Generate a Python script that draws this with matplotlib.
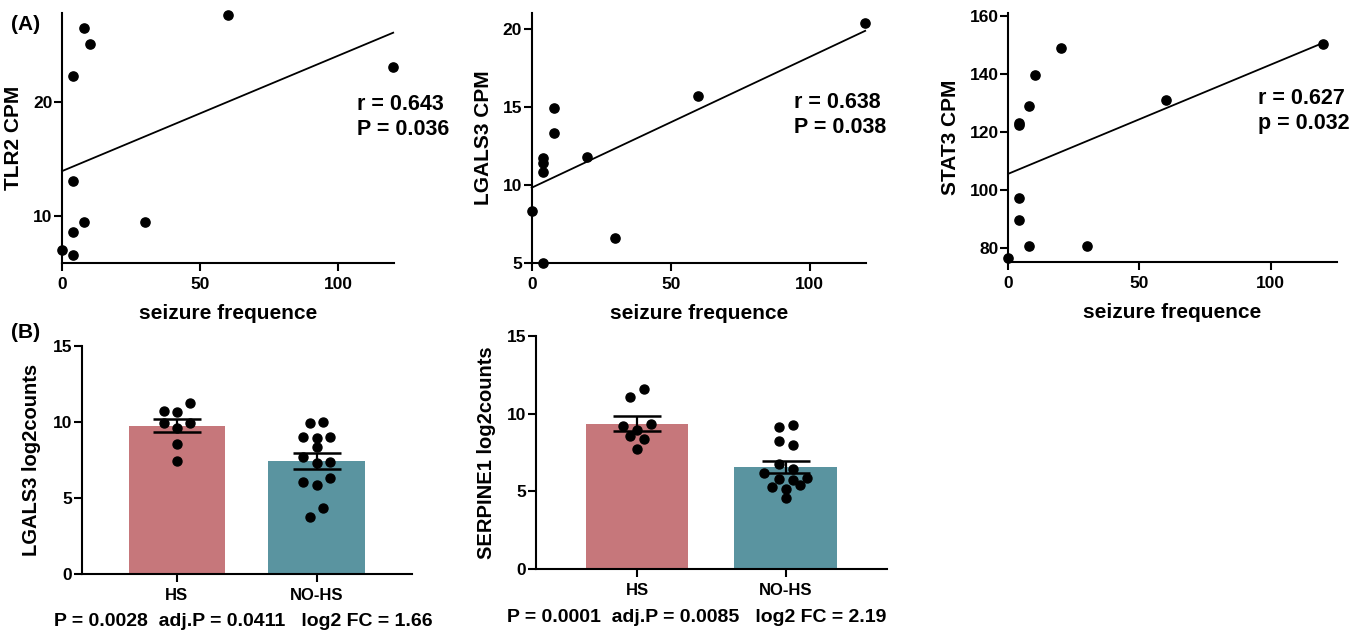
import numpy as np
import matplotlib
matplotlib.use('Agg')
import matplotlib.pyplot as plt

# ---- data ----
# (A) seizure frequence vs CPM
tlr2_x = [0, 4, 4, 4, 4, 8, 8, 10, 30, 60, 120]
tlr2_y = [7.0, 6.6, 8.6, 13.1, 22.3, 9.5, 26.5, 25.1, 9.5, 27.6, 23.1]

lgals3_x = [0, 4, 4, 4, 4, 8, 8, 20, 30, 60, 120]
lgals3_y = [8.3, 5.0, 10.8, 11.4, 11.7, 13.3, 14.9, 11.8, 6.6, 15.7, 20.4]

stat3_x = [0, 4, 4, 4, 4, 8, 8, 10, 20, 30, 60, 120]
stat3_y = [76.8, 89.7, 97.5, 122.3, 123.2, 80.7, 129.1, 139.8, 148.9, 80.9, 131.0, 150.2]

stats_a = ['r = 0.643\nP = 0.036', 'r = 0.638\nP = 0.038', 'r = 0.627\np = 0.032']

# (B) log2counts per group
groups = ['HS', 'NO-HS']
lgals3_hs = [10.72, 10.62, 11.21, 9.89, 9.61, 9.89, 8.51, 7.41]
lgals3_nohs = [9.93, 10.0, 8.97, 8.91, 8.32, 8.97, 7.70, 7.30, 7.33,
               6.01, 5.84, 6.28, 3.73, 4.32]
serpine1_hs = [11.09, 11.59, 9.23, 8.95, 9.34, 8.56, 8.37, 7.73]
serpine1_nohs = [9.12, 9.27, 8.26, 7.98, 6.76, 6.44, 6.16, 5.80, 5.73, 5.88,
                 5.26, 5.15, 5.41, 4.55]

stats_b = ['P = 0.0028  adj.P = 0.0411   log2 FC = 1.66',
           'P = 0.0001  adj.P = 0.0085   log2 FC = 2.19']

bar_colors = ['#C6777B', '#5A94A0']

plt.rcParams['font.family'] = ['Liberation Sans', 'DejaVu Sans']
plt.rcParams['font.weight'] = 'bold'
plt.rcParams['axes.labelweight'] = 'bold'
plt.rcParams['axes.linewidth'] = 1.5

W, H = 1353, 631
fig = plt.figure(figsize=(W / 100, H / 100), dpi=100)


def px_axes(left, top, right, bottom):
    # axes rectangle given in pixel coords of the reference
    return fig.add_axes([left / W, 1 - bottom / H, (right - left) / W, (bottom - top) / H])


def style(ax):
    for s in ['top', 'right']:
        ax.spines[s].set_visible(False)
    ax.tick_params(direction='out', length=6, width=1.5, labelsize=12.5)
    ax.tick_params(axis='y', pad=1)
    ax.tick_params(axis='x', pad=4)


def swarm_offsets(vals, step=0.095, tol=0.6):
    # simple row-wise spreading of points with close values
    vals = np.asarray(vals, dtype=float)
    order = np.argsort(-vals, kind='stable')
    offs = np.zeros(len(vals))
    i = 0
    while i < len(order):
        grp = [order[i]]
        j = i + 1
        while j < len(order) and vals[order[i]] - vals[order[j]] < tol - 1e-9:
            grp.append(order[j])
            j += 1
        grp = sorted(grp)
        n = len(grp)
        for k, idx in enumerate(grp):
            offs[idx] = (k - (n - 1) / 2) * step
        i = j
    return offs


# ---- (A) scatter panels ----
scatter_panels = [
    (tlr2_x, tlr2_y, 'TLR2 CPM', (62, 13, 394, 263), (0, 120.3), (5.9, 27.8), [10, 20], (357, 117)),
    (lgals3_x, lgals3_y, 'LGALS3 CPM', (531.7, 13.3, 866, 262.7), (0, 120.3), (5, 21.0), [5, 10, 15, 20], (794, 115)),
    (stat3_x, stat3_y, 'STAT3 CPM', (1008.3, 13.3, 1336.7, 262), (0, 125.2), (75.3, 160.9), [80, 100, 120, 140, 160], (1258, 111)),
]

for (x, y, ylab, rect, xl, yl, yt, tpos), txt in zip(scatter_panels, stats_a):
    ax = px_axes(*rect)
    style(ax)
    ax.scatter(x, y, s=44, color='black', zorder=3, clip_on=False)
    slope, icpt = np.polyfit(x, y, 1)
    xs = np.array([0, max(x)])
    ax.plot(xs, icpt + slope * xs, color='black', lw=1.3, clip_on=False)
    ax.set_xlim(*xl)
    ax.set_ylim(*yl)
    ax.set_xticks([0, 50, 100])
    ax.set_yticks(yt)
    ax.set_xlabel('seizure frequence', fontsize=15, labelpad=9)
    ax.set_ylabel(ylab, fontsize=15, labelpad=7)
    fig.text(tpos[0] / W, 1 - tpos[1] / H, txt, fontsize=15.5, ha='left', va='center',
             linespacing=1.25)

# ---- (B) bar panels ----
bar_panels = [
    (lgals3_hs, lgals3_nohs, 'LGALS3 log2counts', (81.7, 345.7, 411.7, 573.7)),
    (serpine1_hs, serpine1_nohs, 'SERPINE1 log2counts', (536, 336, 886.7, 569)),
]
text_pos = [(243, 621.5, 'center'), (507, 617, 'left')]

for (hs, nohs, ylab, rect), txt, tp in zip(bar_panels, stats_b, text_pos):
    ax = px_axes(*rect)
    style(ax)
    pos = np.arange(len(groups))
    data = [hs, nohs]
    means = [np.mean(d) for d in data]
    sems = [np.std(d, ddof=1) / np.sqrt(len(d)) for d in data]
    ax.bar(pos, means, width=0.69, color=bar_colors, zorder=1)
    ax.errorbar(pos, means, yerr=sems, fmt='none', ecolor='black', elinewidth=1.6,
                capsize=17, capthick=1.8, zorder=2)
    for p, d in zip(pos, data):
        ax.scatter(p + swarm_offsets(d), d, s=42, color='black', zorder=3)
    ax.set_xlim(-0.68, 1.68)
    ax.set_ylim(0, 15)
    ax.set_yticks([0, 5, 10, 15])
    ax.set_xticks(pos)
    ax.set_xticklabels(groups, fontsize=12)
    ax.set_ylabel(ylab, fontsize=14.5, labelpad=8)
    fig.text(tp[0] / W, 1 - tp[1] / H, txt, fontsize=14, ha=tp[2], va='center')

fig.text(11 / W, 1 - 24 / H, '(A)', fontsize=15, ha='left', va='center')
fig.text(11 / W, 1 - 332 / H, '(B)', fontsize=15, ha='left', va='center')

fig.savefig('out.png', dpi=100)
